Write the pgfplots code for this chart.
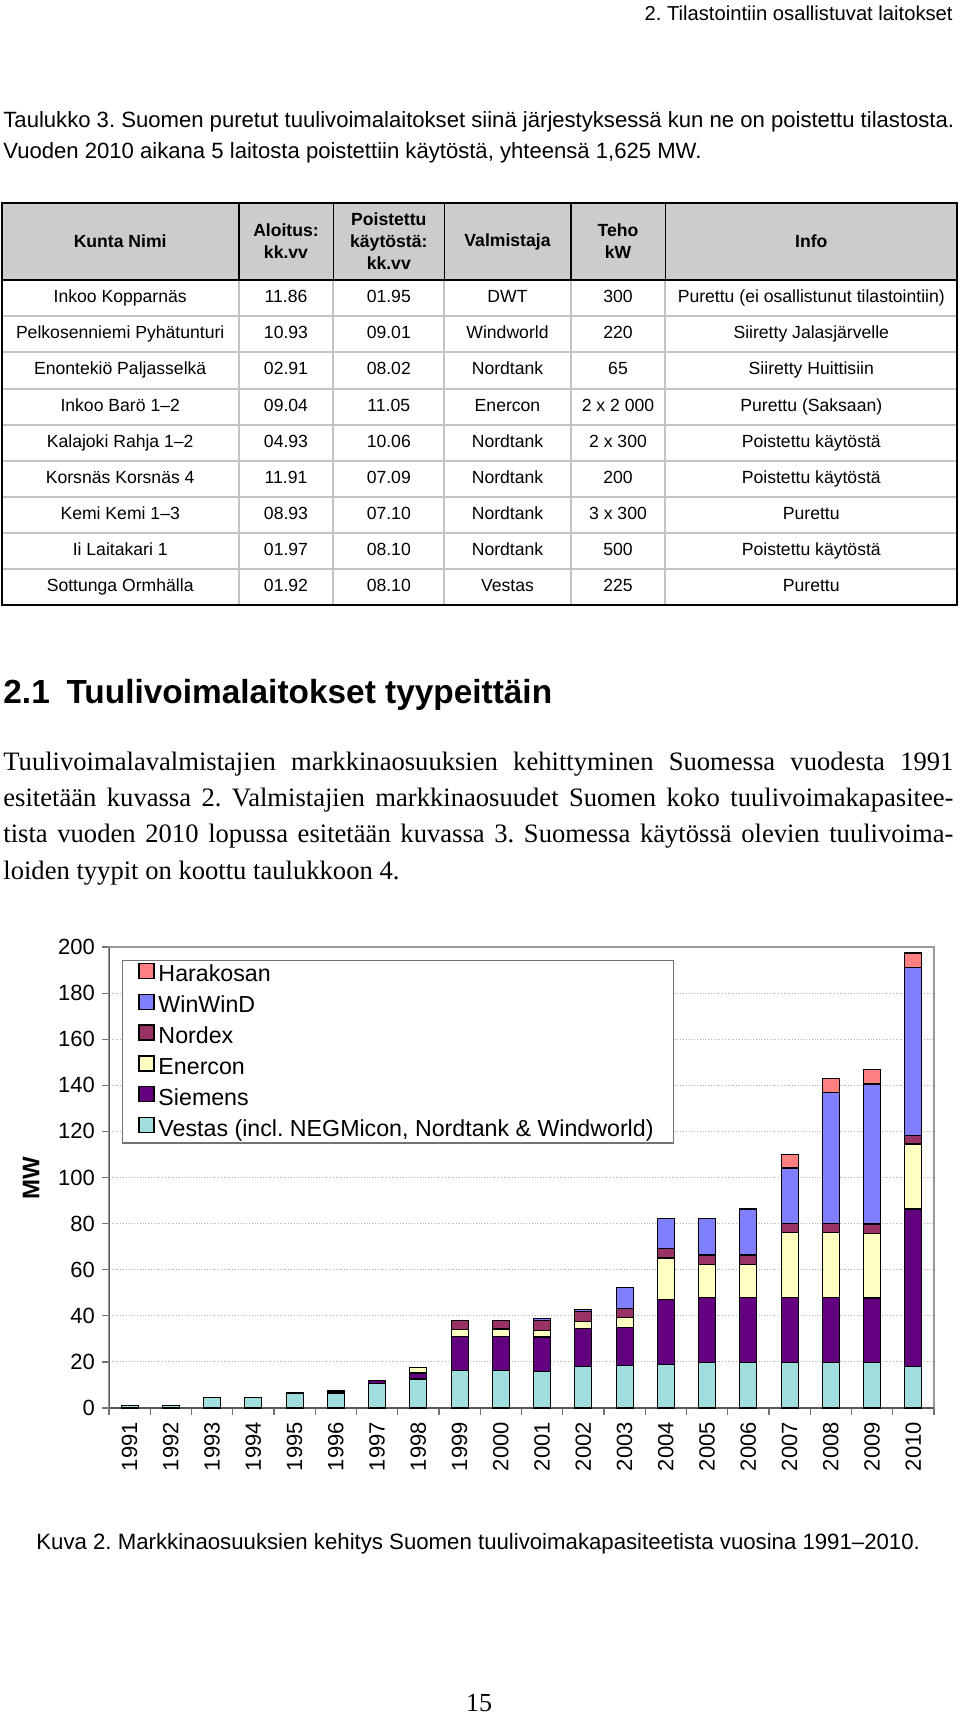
\documentclass[border=0pt]{standalone}
\usepackage{fontspec}
\setmainfont{Liberation Serif}
\setsansfont{Liberation Sans}
\usepackage{pgfplots}
\usepackage{pgfplotstable}
\pgfplotsset{compat=1.18}
\frenchspacing

\definecolor{harak}{HTML}{FF8080}
\definecolor{winwind}{HTML}{8080FF}
\definecolor{nordex}{HTML}{993366}
\definecolor{enercon}{HTML}{FFFFC0}
\definecolor{siemens}{HTML}{620080}
\definecolor{vestas}{HTML}{A0DEDE}
\definecolor{hdrgray}{HTML}{CCCCCC}
\definecolor{cellline}{HTML}{C4C4C4}

% MW per year, stacked from the bottom
\pgfplotstableread{
x  V    S    E    N   W    H
0  1.0  0    0    0   0    0
1  1.2  0    0    0   0    0
2  4.5  0    0    0   0    0
3  4.5  0    0    0   0    0
4  6.5  0    0    0   0    0
5  6.5  0.9  0    0   0    0
6  10.6 1.4  0    0   0    0
7  12.6 2.6  2.3  0   0    0
8  16.2 14.8 3.0  4.0 0    0
9  16.2 14.8 3.3  3.7 0    0
10 15.9 14.9 3.0  4.1 0.9  0
11 17.9 16.5 3.2  4.2 0.9  0
12 18.4 16.6 4.3  3.8 9.1  0
13 18.8 28.2 18.1 4.0 13.0 0
14 19.8 28.1 14.4 4.1 15.9 0
15 19.8 28.1 14.4 4.1 19.9 0
16 19.8 28.1 28.2 4.0 24.0 5.9
17 19.8 28.1 28.2 4.0 56.9 6.0
18 19.8 27.9 28.1 4.0 60.8 6.2
19 17.9 68.4 28.2 3.9 72.8 6.2
}\mwdata

\pgfplotsset{sq legend/.style={legend image code/.code={%
  \draw[##1,line width=0.6pt] (0pt,-1.2pt) rectangle (7.5pt,6.3pt);}}}

\begin{document}
\begin{tikzpicture}
\useasboundingbox (0,0) rectangle (480pt,-857pt);
\begin{scope}[x=0.5pt,y=-0.5pt,font=\sffamily]
% page header and table caption
\node[anchor=base east,inner sep=0,font=\sffamily\fontsize{10.1}{12}\selectfont] at (953,20) {2. Tilastointiin osallistuvat laitokset};
\node[anchor=base west,inner sep=0,font=\sffamily\fontsize{11.05}{13}\selectfont] at (3,127) {Taulukko 3. Suomen puretut tuulivoimalaitokset siinä järjestyksessä kun ne on poistettu tilastosta.};
\node[anchor=base west,inner sep=0,font=\sffamily\fontsize{11.05}{13}\selectfont] at (3,158) {Vuoden 2010 aikana 5 laitosta poistettiin käytöstä, yhteensä 1,625 MW.};

% table
\fill[hdrgray] (1.7,203) rectangle (957.3,280);
\foreach \y in {316,352,388.5,425,461,497,533,569}
  \draw[line width=1pt,cellline] (1.7,\y) -- (957.3,\y);
\foreach \x in {238.7,333.3,444.3,570.7,665.3} {
  \draw[line width=1pt,cellline] (\x,280) -- (\x,605);
  \draw[line width=0.8pt] (\x,203) -- (\x,280);
}
\draw[line width=1pt] (1.7,280) -- (957.3,280);
\draw[line width=0.9pt] (1.7,203) rectangle (957.3,605);
\begin{scope}[every node/.style={font=\sffamily\bfseries\fontsize{8.8}{11}\selectfont,align=center,inner sep=0}]
\node at (120.2,241.5) {Kunta Nimi};
\node at (286,241.5) {Aloitus:\\kk.vv};
\node at (388.8,241.5) {Poistettu\\käytöstä:\\kk.vv};
\node at (507.5,241.5) {Valmistaja};
\node at (618,241.5) {Teho\\kW};
\node at (811.3,241.5) {Info};
\end{scope}
\begin{scope}[every node/.style={font=\sffamily\fontsize{8.8}{11}\selectfont,inner sep=0,text height=6.4pt,text depth=1.9pt}]
\foreach \y/\a/\b/\c/\d/\e/\f in {
  298/Inkoo Kopparnäs/11.86/01.95/DWT/300/Purettu (ei osallistunut tilastointiin),
  334/Pelkosenniemi Pyhätunturi/10.93/09.01/Windworld/220/Siiretty Jalasjärvelle,
  370.3/Enontekiö Paljasselkä/02.91/08.02/Nordtank/65/Siiretty Huittisiin,
  406.7/Inkoo Barö 1–2/09.04/11.05/Enercon/2 x 2 000/Purettu (Saksaan),
  443/Kalajoki Rahja 1–2/04.93/10.06/Nordtank/2 x 300/Poistettu käytöstä,
  479/Korsnäs Korsnäs 4/11.91/07.09/Nordtank/200/Poistettu käytöstä,
  515/Kemi Kemi 1–3/08.93/07.10/Nordtank/3 x 300/Purettu,
  551/Ii Laitakari 1/01.97/08.10/Nordtank/500/Poistettu käytöstä,
  587/Sottunga Ormhälla/01.92/08.10/Vestas/225/Purettu} {
  \node at (120.2,\y) {\a};
  \node at (286,\y) {\b};
  \node at (388.8,\y) {\c};
  \node at (507.5,\y) {\d};
  \node at (618,\y) {\e};
  \node at (811.3,\y) {\f};
}
\end{scope}

% section heading and body text
\node[anchor=base west,inner sep=0,font=\sffamily\bfseries\fontsize{16.7}{19}\selectfont] at (3,703.5) {2.1\hspace{0.5em}Tuulivoimalaitokset tyypeittäin};
\begin{scope}[every node/.style={anchor=base west,inner sep=0,font=\rmfamily\fontsize{13.3}{15}\selectfont}]
\node at (3,770) {\makebox[475pt][s]{Tuulivoimalavalmistajien markkinaosuuksien kehittyminen Suomessa vuodesta 1991}};
\node at (3,806) {\makebox[475pt][s]{esitetään kuvassa 2. Valmistajien markkinaosuudet Suomen koko tuulivoimakapasitee-}};
\node at (3,842) {\makebox[475pt][s]{tista vuoden 2010 lopussa esitetään kuvassa 3. Suomessa käytössä olevien tuulivoima-}};
\node at (3,879) {loiden tyypit on koottu taulukkoon 4.};
\end{scope}

% axis title, figure caption, page number
\node[rotate=90,inner sep=0,font=\sffamily\bfseries\fontsize{12}{14}\selectfont] at (31,1178) {MW};
\node[anchor=base west,inner sep=0,font=\sffamily\fontsize{11.1}{13}\selectfont] at (36,1549) {Kuva 2. Markkinaosuuksien kehitys Suomen tuulivoimakapasiteetista vuosina 1991–2010.};
\node[anchor=base,inner sep=0,font=\rmfamily\fontsize{13}{15}\selectfont] at (479,1711) {15};
\end{scope}

\begin{axis}[
  at={(54.5pt,-473.5pt)}, anchor=north west,
  width=412.5pt, height=230.5pt, scale only axis,
  ybar stacked, bar width=8.5pt,
  xmin=-0.5, xmax=19.5, ymin=0, ymax=200,
  xtick={-0.5,0.5,...,19.5}, x tick label as interval,
  xticklabels={1991,1992,1993,1994,1995,1996,1997,1998,1999,2000,2001,2002,2003,2004,2005,2006,2007,2008,2009,2010},
  ytick={0,20,...,200},
  tick align=outside, xtick pos=bottom, ytick pos=left,
  major tick length=3.5pt,
  tick style={black!55,line width=0.6pt},
  ymajorgrids, grid style={densely dotted,black!30,line width=0.5pt},
  axis line style={black!40,line width=0.6pt},
  ticklabel style={font=\sffamily\fontsize{11}{13}\selectfont},
  /pgf/number format/assume math mode=true,
  x tick label style={rotate=90,anchor=east},
  legend style={at={(0,1)},anchor=north west,xshift=6.35pt,yshift=-6.5pt,
    draw=black!55,line width=0.6pt,font=\sffamily\fontsize{11.6}{13}\selectfont,
    inner xsep=8pt,inner ysep=1pt,row sep=3.5pt,
    nodes={inner xsep=2pt,inner ysep=0pt,text height=8.3pt,text depth=2.4pt}},
  legend cell align=left, reverse legend,
  every axis plot/.append style={draw=black,line width=0.6pt},
]
\addplot[fill=vestas,sq legend] table[x=x,y=V]{\mwdata};
\addplot[fill=siemens,sq legend] table[x=x,y=S]{\mwdata};
\addplot[fill=enercon,sq legend] table[x=x,y=E]{\mwdata};
\addplot[fill=nordex,sq legend] table[x=x,y=N]{\mwdata};
\addplot[fill=winwind,sq legend] table[x=x,y=W]{\mwdata};
\addplot[fill=harak,sq legend] table[x=x,y=H]{\mwdata};
\legend{{Vestas (incl. NEGMicon, Nordtank \& Windworld)},Siemens,Enercon,Nordex,WinWinD,Harakosan}
\draw[black!65,line width=0.7pt] (rel axis cs:0,1) -- (rel axis cs:0,0) -- (rel axis cs:1,0);
\end{axis}
\end{tikzpicture}
\end{document}
